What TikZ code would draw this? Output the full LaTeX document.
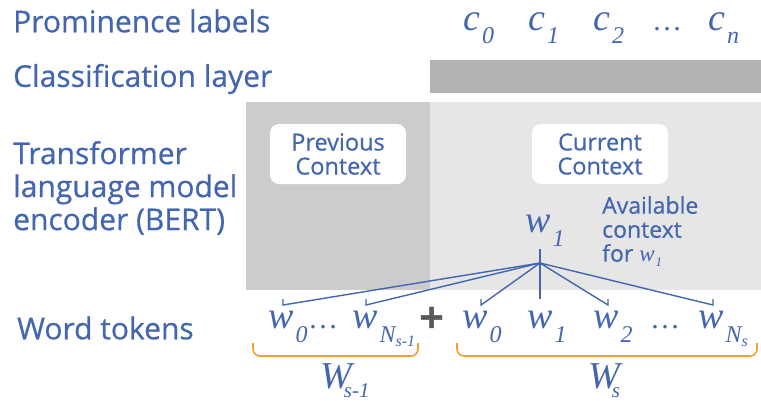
\documentclass[tikz,border=0pt]{standalone}
\usepackage{fontspec}
\setmainfont{Open Sans}
\newfontface\labfont{Open Sans}[FakeBold=0.6]
\newfontfamily\tokfont{Liberation Serif}
\definecolor{txtblue}{HTML}{4466B0}
\definecolor{bracecol}{HTML}{F5A030}
\definecolor{layergray}{HTML}{B3B3B3}
\definecolor{prevgray}{HTML}{CCCCCC}
\definecolor{curgray}{HTML}{E6E6E6}
\definecolor{plusgray}{HTML}{595959}
% a token: big italic letter with its index set low and apart
\newcommand{\tokletter}[3][-14pt]{{\tokfont\itshape\fontsize{38}{38}\selectfont #2\kern2pt\raisebox{#1}{\fontsize{24}{24}\selectfont #3}}}
\newcommand{\subsub}[2]{#1\raisebox{-4pt}{\fontsize{16}{16}\selectfont #2}}
\newcommand{\sentletter}[2]{{\tokfont\itshape\fontsize{38}{38}\selectfont #1\kern-8pt\raisebox{-9pt}{\fontsize{21}{21}\selectfont #2}}}
\tikzset{
  rowlabel/.style={anchor=west,text=txtblue,font=\labfont\fontsize{30}{33}\selectfont,align=left,inner sep=0pt},
  ctxbox/.style={fill=white,rounded corners=9pt,minimum width=136pt,minimum height=60pt,text=txtblue,font=\labfont\fontsize{23.5}{24}\selectfont,align=center,inner sep=0pt},
  tok/.style={text=txtblue,inner sep=0pt,anchor=base west},
  link/.style={txtblue,line width=1.4pt},
  wbrace/.style={bracecol,line width=1.6pt,rounded corners=7pt},
}
\begin{document}
\begin{tikzpicture}[x=1pt,y=-1pt]
        \useasboundingbox(0,0)rectangle(761,400);
        % row labels
        \node[rowlabel](lprom)at(13,21){Prominence labels};
        \node[rowlabel](lclass)at(13,79){Classification layer};
        \node[rowlabel](lenc)at(13,188){Transformer\\language model\\encoder (BERT)};
        \node[rowlabel](lword)at(17,328){Word tokens};

        % layers
        \fill[layergray](430,60)rectangle(761,93);
        \fill[prevgray](246,102)rectangle(430,290);
        \fill[curgray](430,102)rectangle(761,290);
        \node[ctxbox](prev)at(338,154){Previous\\Context};
        \node[ctxbox](cur)at(600,154){Current\\Context};

        % prominence labels
        \node[tok](c0)at(463,30){\tokletter[-13pt]{c}{0}};
        \node[tok](c1)at(528,30){\tokletter[-13pt]{c}{1}};
        \node[tok](c2)at(593,30){\tokletter[-13pt]{c}{2}};
        \node[tok](cdots)at(652,30){\tokfont\fontsize{30}{30}\selectfont\dots};
        \node[tok](cn)at(708,30){\tokletter[-13pt]{c}{n}};

        % target word and its context
        \node[tok](wt)at(525,232){\tokletter{w}{1}};
        \node[anchor=north west,text=txtblue,font=\labfont\fontsize{23}{24}\selectfont,align=left,inner sep=0pt](avail)at(602,196){Available\\context\\for {\tokfont\itshape\fontsize{23}{23}\selectfont w\kern1pt\raisebox{-5pt}{\fontsize{13}{13}\selectfont 1}}};

        % word tokens
        \node[tok](pw0)at(268,328){\tokletter{w}{0}};
        \node[tok](pdots)at(308,328){\tokfont\fontsize{30}{30}\selectfont\dots};
        \node[tok](pwn)at(352,328){\tokletter{w}{\subsub{N}{s-1}}};
        \node[text=plusgray,inner sep=0pt,font=\bfseries\fontsize{44}{44}\selectfont](plus)at(432,320){+};
        \node[tok](w0)at(462,328){\tokletter{w}{0}};
        \node[tok](w1)at(527,328){\tokletter{w}{1}};
        \node[tok](w2)at(593,328){\tokletter{w}{2}};
        \node[tok](wdots)at(650,328){\tokfont\fontsize{30}{30}\selectfont\dots};
        \node[tok](wn)at(698,328){\tokletter{w}{\subsub{N}{s}}};

        % attention links
        \coordinate(hub)at(540,263);
        \coordinate(top)at(540,249);
        \foreach \n/\x in {pt0/283,ptn/366,t0/481,t1/540,t2/608,tn/713}
          \coordinate(\n)at(\x,299);
        \draw[link](top)--(t1);
        \foreach \n in {pt0,ptn,t0,t2,tn}
          \draw[link](hub)--([yshift=-6pt]\n)--(\n);

        % sentence braces
        \draw[wbrace](253,343)--(253,356)--(418,356)--(418,343);
        \draw[wbrace](457,343)--(457,356)--(757,356)--(757,343);
        \node[tok](Wp)at(320,388){\sentletter{W}{s-1}};
        \node[tok](Ws)at(588,388){\sentletter{W}{s}};
    \end{tikzpicture}
\end{document}
